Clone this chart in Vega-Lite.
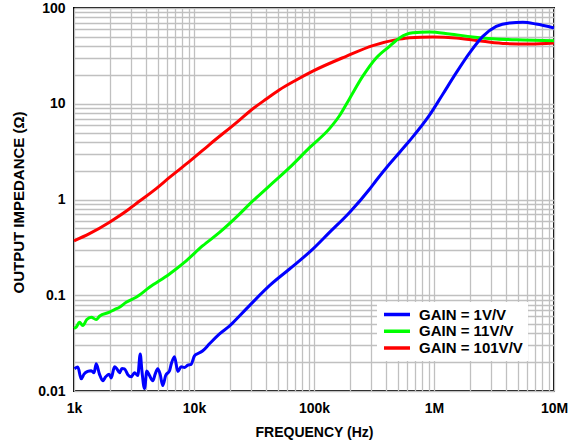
{
  "$schema": "https://vega.github.io/schema/vega-lite/v6.json",
  "width": 480,
  "height": 383,
  "autosize": {"type": "none"},
  "padding": {"left": 74, "top": 8, "right": 25, "bottom": 57},
  "background": "white",
  "config": {
    "font": "Liberation Sans",
    "view": {"stroke": "black", "strokeWidth": 2},
    "axis": {
      "grid": true, "gridColor": "#c0c0c0", "gridWidth": 1.3, "gridOpacity": 1,
      "ticks": false, "domain": false,
      "labelFont": "Liberation Sans", "labelFontWeight": "bold", "labelFontSize": 14, "labelColor": "black",
      "titleFont": "Liberation Sans", "titleFontWeight": "bold", "titleFontSize": 14, "titleColor": "black",
      "labelOverlap": false, "labelFlush": false
    }
  },
  "data": {"values": [
    {"f": 1000, "z": 0.37, "g": "GAIN = 101V/V"},
    {"f": 1345, "z": 0.44, "g": "GAIN = 101V/V"},
    {"f": 1977, "z": 0.58, "g": "GAIN = 101V/V"},
    {"f": 2900, "z": 0.8, "g": "GAIN = 101V/V"},
    {"f": 3196, "z": 0.88, "g": "GAIN = 101V/V"},
    {"f": 4842, "z": 1.3, "g": "GAIN = 101V/V"},
    {"f": 6250, "z": 1.7, "g": "GAIN = 101V/V"},
    {"f": 9173, "z": 2.5, "g": "GAIN = 101V/V"},
    {"f": 13460, "z": 3.75, "g": "GAIN = 101V/V"},
    {"f": 23920, "z": 6.75, "g": "GAIN = 101V/V"},
    {"f": 29000, "z": 8.3, "g": "GAIN = 101V/V"},
    {"f": 40000, "z": 11.2, "g": "GAIN = 101V/V"},
    {"f": 51600, "z": 14.0, "g": "GAIN = 101V/V"},
    {"f": 70000, "z": 17.5, "g": "GAIN = 101V/V"},
    {"f": 97700, "z": 21.9, "g": "GAIN = 101V/V"},
    {"f": 185400, "z": 31.3, "g": "GAIN = 101V/V"},
    {"f": 309000, "z": 40.5, "g": "GAIN = 101V/V"},
    {"f": 499000, "z": 47.0, "g": "GAIN = 101V/V"},
    {"f": 625000, "z": 49.0, "g": "GAIN = 101V/V"},
    {"f": 977000, "z": 49.9, "g": "GAIN = 101V/V"},
    {"f": 1530000, "z": 48.7, "g": "GAIN = 101V/V"},
    {"f": 2550000, "z": 44.9, "g": "GAIN = 101V/V"},
    {"f": 3990000, "z": 42.5, "g": "GAIN = 101V/V"},
    {"f": 6250000, "z": 42.2, "g": "GAIN = 101V/V"},
    {"f": 10000000, "z": 43.2, "g": "GAIN = 101V/V"},

    {"f": 1000, "z": 0.045, "g": "GAIN = 11V/V"},
    {"f": 1043, "z": 0.0464, "g": "GAIN = 11V/V"},
    {"f": 1111, "z": 0.0523, "g": "GAIN = 11V/V"},
    {"f": 1184, "z": 0.0482, "g": "GAIN = 11V/V"},
    {"f": 1278, "z": 0.0557, "g": "GAIN = 11V/V"},
    {"f": 1391, "z": 0.059, "g": "GAIN = 11V/V"},
    {"f": 1531, "z": 0.0557, "g": "GAIN = 11V/V"},
    {"f": 1630, "z": 0.0604, "g": "GAIN = 11V/V"},
    {"f": 1977, "z": 0.0665, "g": "GAIN = 11V/V"},
    {"f": 2175, "z": 0.0708, "g": "GAIN = 11V/V"},
    {"f": 2394, "z": 0.075, "g": "GAIN = 11V/V"},
    {"f": 2722, "z": 0.0845, "g": "GAIN = 11V/V"},
    {"f": 3296, "z": 0.0953, "g": "GAIN = 11V/V"},
    {"f": 4256, "z": 0.121, "g": "GAIN = 11V/V"},
    {"f": 6250, "z": 0.167, "g": "GAIN = 11V/V"},
    {"f": 8610, "z": 0.229, "g": "GAIN = 11V/V"},
    {"f": 11840, "z": 0.329, "g": "GAIN = 11V/V"},
    {"f": 16320, "z": 0.453, "g": "GAIN = 11V/V"},
    {"f": 23920, "z": 0.703, "g": "GAIN = 11V/V"},
    {"f": 29000, "z": 0.894, "g": "GAIN = 11V/V"},
    {"f": 42560, "z": 1.39, "g": "GAIN = 11V/V"},
    {"f": 62500, "z": 2.15, "g": "GAIN = 11V/V"},
    {"f": 91760, "z": 3.48, "g": "GAIN = 11V/V"},
    {"f": 134600, "z": 5.5, "g": "GAIN = 11V/V"},
    {"f": 163000, "z": 7.5, "g": "GAIN = 11V/V"},
    {"f": 197700, "z": 11.3, "g": "GAIN = 11V/V"},
    {"f": 255000, "z": 19.4, "g": "GAIN = 11V/V"},
    {"f": 329600, "z": 30.1, "g": "GAIN = 11V/V"},
    {"f": 425600, "z": 39.8, "g": "GAIN = 11V/V"},
    {"f": 516000, "z": 48.7, "g": "GAIN = 11V/V"},
    {"f": 665000, "z": 55, "g": "GAIN = 11V/V"},
    {"f": 917000, "z": 56.2, "g": "GAIN = 11V/V"},
    {"f": 1346000, "z": 53.6, "g": "GAIN = 11V/V"},
    {"f": 2100000, "z": 49.9, "g": "GAIN = 11V/V"},
    {"f": 3300000, "z": 47.5, "g": "GAIN = 11V/V"},
    {"f": 5500000, "z": 46.4, "g": "GAIN = 11V/V"},
    {"f": 10000000, "z": 45.6, "g": "GAIN = 11V/V"},

    {"f": 1010, "z": 0.0171, "g": "GAIN = 1V/V"},
    {"f": 1076, "z": 0.0178, "g": "GAIN = 1V/V"},
    {"f": 1148, "z": 0.0134, "g": "GAIN = 1V/V"},
    {"f": 1212, "z": 0.015, "g": "GAIN = 1V/V"},
    {"f": 1300, "z": 0.016, "g": "GAIN = 1V/V"},
    {"f": 1391, "z": 0.0163, "g": "GAIN = 1V/V"},
    {"f": 1470, "z": 0.0155, "g": "GAIN = 1V/V"},
    {"f": 1531, "z": 0.0192, "g": "GAIN = 1V/V"},
    {"f": 1630, "z": 0.015, "g": "GAIN = 1V/V"},
    {"f": 1738, "z": 0.0128, "g": "GAIN = 1V/V"},
    {"f": 1830, "z": 0.014, "g": "GAIN = 1V/V"},
    {"f": 1960, "z": 0.015, "g": "GAIN = 1V/V"},
    {"f": 2041, "z": 0.0137, "g": "GAIN = 1V/V"},
    {"f": 2175, "z": 0.0179, "g": "GAIN = 1V/V"},
    {"f": 2280, "z": 0.017, "g": "GAIN = 1V/V"},
    {"f": 2394, "z": 0.0155, "g": "GAIN = 1V/V"},
    {"f": 2510, "z": 0.0172, "g": "GAIN = 1V/V"},
    {"f": 2633, "z": 0.017, "g": "GAIN = 1V/V"},
    {"f": 2810, "z": 0.0148, "g": "GAIN = 1V/V"},
    {"f": 2998, "z": 0.0141, "g": "GAIN = 1V/V"},
    {"f": 3194, "z": 0.0155, "g": "GAIN = 1V/V"},
    {"f": 3403, "z": 0.0145, "g": "GAIN = 1V/V"},
    {"f": 3562, "z": 0.0244, "g": "GAIN = 1V/V"},
    {"f": 3685, "z": 0.016, "g": "GAIN = 1V/V"},
    {"f": 3869, "z": 0.0106, "g": "GAIN = 1V/V"},
    {"f": 4046, "z": 0.0162, "g": "GAIN = 1V/V"},
    {"f": 4257, "z": 0.0145, "g": "GAIN = 1V/V"},
    {"f": 4537, "z": 0.0128, "g": "GAIN = 1V/V"},
    {"f": 4746, "z": 0.015, "g": "GAIN = 1V/V"},
    {"f": 4986, "z": 0.0171, "g": "GAIN = 1V/V"},
    {"f": 5221, "z": 0.015, "g": "GAIN = 1V/V"},
    {"f": 5493, "z": 0.0114, "g": "GAIN = 1V/V"},
    {"f": 5805, "z": 0.0145, "g": "GAIN = 1V/V"},
    {"f": 6255, "z": 0.0163, "g": "GAIN = 1V/V"},
    {"f": 6489, "z": 0.0195, "g": "GAIN = 1V/V"},
    {"f": 6877, "z": 0.0228, "g": "GAIN = 1V/V"},
    {"f": 7330, "z": 0.016, "g": "GAIN = 1V/V"},
    {"f": 7815, "z": 0.0179, "g": "GAIN = 1V/V"},
    {"f": 8324, "z": 0.0176, "g": "GAIN = 1V/V"},
    {"f": 8875, "z": 0.0186, "g": "GAIN = 1V/V"},
    {"f": 9464, "z": 0.019, "g": "GAIN = 1V/V"},
    {"f": 10090, "z": 0.0233, "g": "GAIN = 1V/V"},
    {"f": 10700, "z": 0.0245, "g": "GAIN = 1V/V"},
    {"f": 11840, "z": 0.0263, "g": "GAIN = 1V/V"},
    {"f": 13460, "z": 0.0311, "g": "GAIN = 1V/V"},
    {"f": 16320, "z": 0.0395, "g": "GAIN = 1V/V"},
    {"f": 19820, "z": 0.0479, "g": "GAIN = 1V/V"},
    {"f": 23920, "z": 0.0608, "g": "GAIN = 1V/V"},
    {"f": 29000, "z": 0.078, "g": "GAIN = 1V/V"},
    {"f": 42560, "z": 0.126, "g": "GAIN = 1V/V"},
    {"f": 62500, "z": 0.188, "g": "GAIN = 1V/V"},
    {"f": 97700, "z": 0.303, "g": "GAIN = 1V/V"},
    {"f": 134600, "z": 0.453, "g": "GAIN = 1V/V"},
    {"f": 197700, "z": 0.732, "g": "GAIN = 1V/V"},
    {"f": 290000, "z": 1.28, "g": "GAIN = 1V/V"},
    {"f": 329600, "z": 1.58, "g": "GAIN = 1V/V"},
    {"f": 425600, "z": 2.35, "g": "GAIN = 1V/V"},
    {"f": 516000, "z": 3.1, "g": "GAIN = 1V/V"},
    {"f": 625000, "z": 4.1, "g": "GAIN = 1V/V"},
    {"f": 917000, "z": 7.6, "g": "GAIN = 1V/V"},
    {"f": 1180000, "z": 12.5, "g": "GAIN = 1V/V"},
    {"f": 1530000, "z": 21.0, "g": "GAIN = 1V/V"},
    {"f": 1980000, "z": 34.0, "g": "GAIN = 1V/V"},
    {"f": 2550000, "z": 50.6, "g": "GAIN = 1V/V"},
    {"f": 3300000, "z": 64.3, "g": "GAIN = 1V/V"},
    {"f": 4260000, "z": 69.8, "g": "GAIN = 1V/V"},
    {"f": 5500000, "z": 70.8, "g": "GAIN = 1V/V"},
    {"f": 7080000, "z": 68.1, "g": "GAIN = 1V/V"},
    {"f": 10000000, "z": 61.9, "g": "GAIN = 1V/V"}
  ]},
  "mark": {"type": "line", "strokeWidth": 3, "interpolate": "monotone"},
  "encoding": {
    "x": {
      "field": "f", "type": "quantitative",
      "scale": {"type": "log", "domain": [1000, 10000000], "nice": false},
      "axis": {
        "title": "FREQUENCY (Hz)",
        "titleY": 41, "titleBaseline": "middle",
        "labelPadding": 10,
        "values": [1000,2000,3000,4000,5000,6000,7000,8000,9000,10000,20000,30000,40000,50000,60000,70000,80000,90000,100000,200000,300000,400000,500000,600000,700000,800000,900000,1000000,2000000,3000000,4000000,5000000,6000000,7000000,8000000,9000000,10000000],
        "labelExpr": "datum.value == 1000 ? '1k' : datum.value == 10000 ? '10k' : datum.value == 100000 ? '100k' : datum.value == 1000000 ? '1M' : datum.value == 10000000 ? '10M' : ''"
      }
    },
    "y": {
      "field": "z", "type": "quantitative",
      "scale": {"type": "log", "domain": [0.01, 100], "nice": false},
      "axis": {
        "title": "OUTPUT IMPEDANCE (Ω)",
        "titleFontSize": 15,
        "titleX": -56, "titleY": 194, "titleBaseline": "middle", "titleAlign": "center", "titleAngle": -90,
        "labelPadding": 9,
        "values": [0.01,0.02,0.03,0.04,0.05,0.06,0.07,0.08,0.09,0.1,0.2,0.3,0.4,0.5,0.6,0.7,0.8,0.9,1,2,3,4,5,6,7,8,9,10,20,30,40,50,60,70,80,90,100],
        "labelExpr": "datum.value == 0.01 ? '0.01' : datum.value == 0.1 ? '0.1' : datum.value == 1 ? '1' : datum.value == 10 ? '10' : datum.value == 100 ? '100' : ''"
      }
    },
    "color": {
      "field": "g", "type": "nominal",
      "scale": {"domain": ["GAIN = 1V/V", "GAIN = 11V/V", "GAIN = 101V/V"], "range": ["#0000ff", "#00ff00", "#ff0000"]},
      "legend": {
        "title": null, "orient": "none", "legendX": 303, "legendY": 294,
        "fillColor": "white", "padding": 5,
        "symbolType": "stroke", "symbolSize": 676, "symbolStrokeWidth": 3.5,
        "labelOffset": 7, "labelFont": "Liberation Sans", "labelFontWeight": "bold", "labelFontSize": 15, "labelColor": "black",
        "clipHeight": 15, "rowPadding": 0.7
      }
    }
  }
}
